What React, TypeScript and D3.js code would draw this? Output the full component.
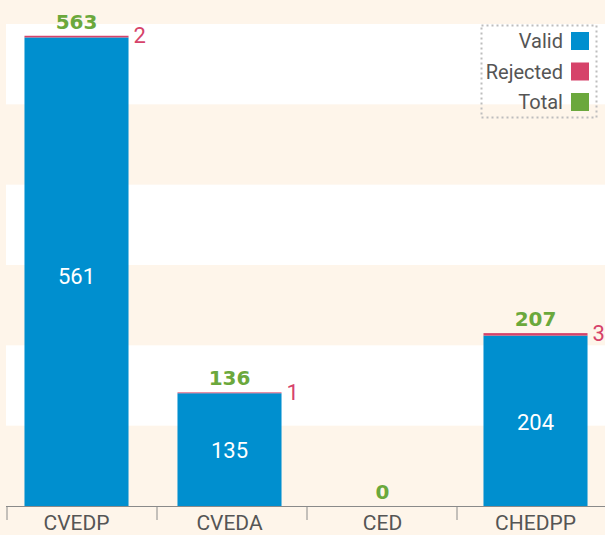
import * as d3 from "d3";

const categories = ["CVEDP", "CVEDA", "CED", "CHEDPP"];
const validValues = [561, 135, 0, 204];
const rejectedValues = [2, 1, 0, 3];
const totalValues = [563, 136, 0, 207];

const legendLabels = ["Valid", "Rejected", "Total"];

const BLUE = "#008fcf";
const RED = "#d6436a";
const GREEN = "#6ba83c";
const CREAM = "#fef5ea";
const TEXT = "#555555";

const W = 605;
const H = 535;
const top = 24;
const bottom = 506;

const BarChart = () => {
  const yMax = (d3.max(totalValues) || 0) * 1.025;
  const y = d3.scaleLinear().domain([0, yMax]).range([bottom, top]);

  const x = d3
    .scaleBand()
    .domain(categories)
    .range([0, 612])
    .paddingInner(0.32)
    .paddingOuter(0.16);

  // axis ticks sit on a slightly different grid than the bars
  const xTick = d3.scaleBand().domain(categories).range([6.5, 606.5]);

  const bands = d3.range(6).map((i) => ({
    y0: y((i * yMax) / 6),
    y1: y(((i + 1) * yMax) / 6),
    white: i % 2 === 1,
  }));

  const legendColors = [BLUE, RED, GREEN];

  return (
    <svg
      width={W}
      height={H}
      style={{ position: "absolute", left: 0, top: 0, display: "block" }}
      fontFamily="Roboto, sans-serif"
    >
      <rect x={0} y={0} width={W} height={H} fill={CREAM} />
      {bands
        .filter((b) => b.white)
        .map((b, i) => (
          <rect key={i} x={6} y={b.y1} width={W - 6} height={b.y0 - b.y1} fill="#ffffff" />
        ))}

      {categories.map((c, i) => {
        const bx = x(c) || 0;
        const bw = x.bandwidth();
        const cx = bx + bw / 2;
        const v = validValues[i];
        const r = rejectedValues[i];
        const t = totalValues[i];
        return (
          <g key={c}>
            {v > 0 && (
              <rect x={bx} y={y(v)} width={bw} height={y(0) - y(v)} fill={BLUE} />
            )}
            {r > 0 && (
              <rect x={bx} y={y(v + r)} width={bw} height={y(v) - y(v + r)} fill={RED} />
            )}
            {v > 0 && (
              <text
                x={cx}
                y={y(v * 0.49)}
                textAnchor="middle"
                dominantBaseline="central"
                fill="#ffffff"
                fontSize={22}
              >
                {v}
              </text>
            )}
            {r > 0 && (
              <text
                x={bx + bw + 5}
                y={y(t)}
                dominantBaseline="central"
                fill={RED}
                fontSize={22}
              >
                {r}
              </text>
            )}
            <text
              x={cx}
              y={y(t) - 7}
              textAnchor="middle"
              fill={GREEN}
              fontSize={20}
              fontWeight="bold"
              fontFamily="DejaVu Sans, sans-serif"
            >
              {t}
            </text>
          </g>
        );
      })}

      <g>
        <line x1={6} x2={W} y1={bottom + 0.5} y2={bottom + 0.5} stroke="#8a8a8a" strokeWidth={1} />
        {categories.map((c) => (
          <line
            key={c}
            x1={(xTick(c) || 0) + 0.5}
            x2={(xTick(c) || 0) + 0.5}
            y1={bottom}
            y2={bottom + 14}
            stroke="#8a8a8a"
            strokeWidth={1}
          />
        ))}
        {categories.map((c) => (
          <text
            key={c}
            x={(x(c) || 0) + x.bandwidth() / 2}
            y={530}
            textAnchor="middle"
            fill={TEXT}
            fontSize={21}
          >
            {c}
          </text>
        ))}
      </g>

      <g>
        <rect
          x={481.5}
          y={25.5}
          width={115}
          height={92}
          fill="none"
          stroke="#bdbdbd"
          strokeWidth={2}
          strokeDasharray="2 3"
        />
        {legendLabels.map((l, i) => (
          <g key={l} transform={`translate(0,${32 + i * 30.5})`}>
            <rect x={571} y={0} width={18} height={18} fill={legendColors[i]} />
            <text x={563} y={9} textAnchor="end" dominantBaseline="central" fill={TEXT} fontSize={20}>
              {l}
            </text>
          </g>
        ))}
      </g>
    </svg>
  );
};

export default function App() {
  return <BarChart />;
}
